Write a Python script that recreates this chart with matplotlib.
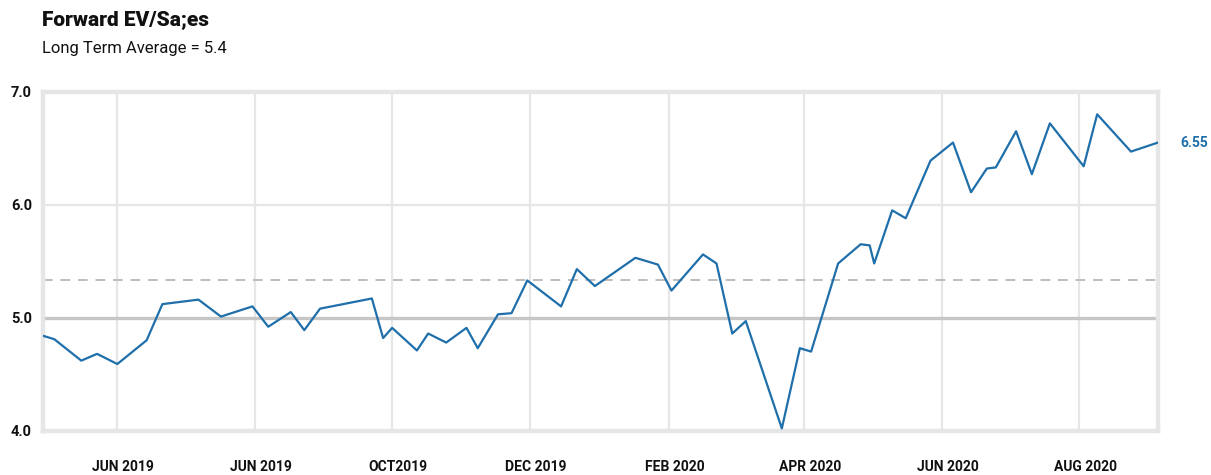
import matplotlib
matplotlib.use("Agg")
import matplotlib.pyplot as plt
import matplotlib.transforms as mtransforms
import pandas as pd

TITLE = "Forward EV/Sa;es"
SUBTITLE = "Long Term Average = 5.4"

dates = [
    "2019-04-29", "2019-05-04", "2019-05-16", "2019-05-23", "2019-06-01",
    "2019-06-14", "2019-06-21", "2019-07-07", "2019-07-17", "2019-07-31",
    "2019-08-07", "2019-08-17", "2019-08-23", "2019-08-30", "2019-09-22",
    "2019-09-27", "2019-10-01", "2019-10-12", "2019-10-17", "2019-10-25",
    "2019-11-03", "2019-11-08", "2019-11-17", "2019-11-23", "2019-11-30",
    "2019-12-15", "2019-12-22", "2019-12-30", "2020-01-17", "2020-01-27",
    "2020-02-02", "2020-02-16", "2020-02-22", "2020-02-29", "2020-03-06",
    "2020-03-22", "2020-03-30", "2020-04-04", "2020-04-16", "2020-04-26",
    "2020-04-30", "2020-05-02", "2020-05-10", "2020-05-16", "2020-05-27",
    "2020-06-06", "2020-06-14", "2020-06-21", "2020-06-25", "2020-07-04",
    "2020-07-11", "2020-07-19", "2020-08-03", "2020-08-09", "2020-08-24",
    "2020-09-05",
]
ev_sales = [
    4.84, 4.81, 4.62, 4.68, 4.59, 4.80, 5.12, 5.16, 5.01, 5.10,
    4.92, 5.05, 4.89, 5.08, 5.17, 4.82, 4.91, 4.71, 4.86, 4.78,
    4.91, 4.73, 5.03, 5.04, 5.33, 5.10, 5.43, 5.28, 5.53, 5.47,
    5.24, 5.56, 5.48, 4.86, 4.97, 4.02, 4.73, 4.70, 5.48, 5.65,
    5.64, 5.48, 5.95, 5.88, 6.39, 6.55, 6.11, 6.32, 6.33, 6.65,
    6.27, 6.72, 6.34, 6.80, 6.47, 6.55,
]
tick_dates = ["2019-06-01", "2019-08-01", "2019-10-01", "2019-12-01",
              "2020-02-01", "2020-04-01", "2020-06-01", "2020-08-01"]
tick_labels = ["JUN 2019", "JUN 2019", "OCT2019", "DEC 2019",
               "FEB 2020", "APR 2020", "JUN 2020", "AUG 2020"]
y_ticks = [4.0, 5.0, 6.0, 7.0]
average_line = 5.33
base_line = 5.0

LINE_BLUE = "#1f6fab"
GRID = "#e6e6e6"
FONT = ["Roboto", "DejaVu Sans"]

x = pd.to_datetime(dates)
ticks = pd.to_datetime(tick_dates)

fig = plt.figure(figsize=(12.11, 4.75), dpi=100)
ax = fig.add_axes([43 / 1211, 1 - 430.7 / 475, (1158 - 43) / 1211, (430.7 - 91.7) / 475])

ax.set_xlim(x[0], x[-1])
ax.set_ylim(4.0, 7.0)

# grid + reference lines
for t in ticks:
    ax.axvline(t, color=GRID, lw=1.6, zorder=1)
ax.axhline(6.0, color=GRID, lw=1.6, zorder=1)
ax.axhline(base_line, color="#c6c6c6", lw=2.4, zorder=2)
ax.axhline(average_line, color="#bdbdbd", lw=1.4, ls=(0, (5, 4)), zorder=2)

ax.plot(x, ev_sales, color=LINE_BLUE, lw=1.6, zorder=3)

for s in ax.spines.values():
    s.set_color(GRID)
    s.set_linewidth(3.2)

ax.set_yticks(y_ticks)
ax.set_yticklabels([f"{v:.1f}" for v in y_ticks], family=FONT,
                   fontweight="bold", fontsize=10.5, color="#111111")
ax.set_xticks(ticks)
ax.set_xticklabels(tick_labels, family=FONT, fontweight="bold",
                   fontsize=10, color="#111111")
ax.tick_params(axis="both", length=0)
ax.tick_params(axis="x", pad=21)
ax.tick_params(axis="y", pad=8)

# labels sit a little right of their gridlines in the original
shift = mtransforms.ScaledTranslation(6 / 100, 0, fig.dpi_scale_trans)
for lab in ax.get_xticklabels():
    lab.set_transform(lab.get_transform() + shift)

ax.text(1.02, (ev_sales[-1] - 4.0) / 3.0, f"{ev_sales[-1]:.2f}", transform=ax.transAxes,
        color=LINE_BLUE, family=FONT, fontweight="bold", fontsize=10,
        va="center", ha="left")

fig.text(42 / 1211, 1 - 20 / 475, TITLE, family=FONT, fontweight="black",
         fontsize=15, va="center", ha="left", color="#111111")
fig.text(42 / 1211, 1 - 48 / 475, SUBTITLE, family=FONT,
         fontsize=12, va="center", ha="left", color="#111111")

fig.savefig("out.png", dpi=100)
